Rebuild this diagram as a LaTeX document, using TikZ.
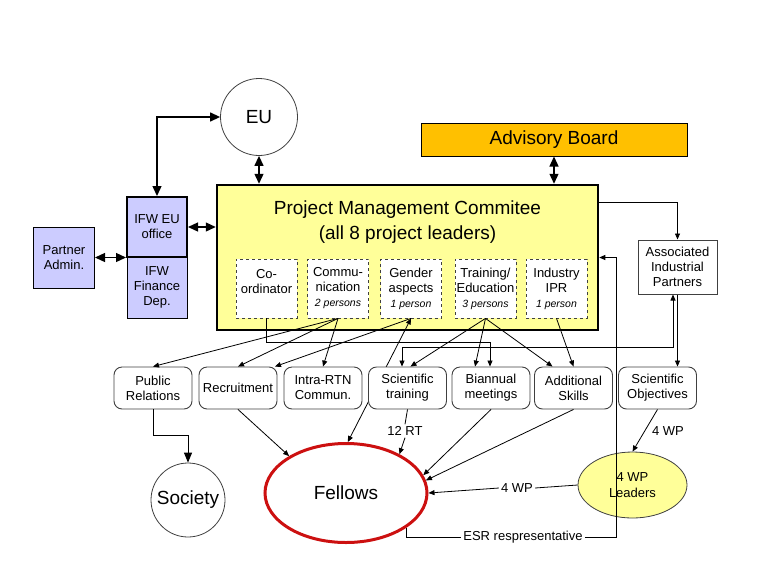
\documentclass[tikz,border=0pt]{standalone}
\usepackage{fontspec}
\setmainfont{Liberation Sans}
\usetikzlibrary{arrows.meta,calc,positioning,shapes.geometric}
\definecolor{pmcyellow}{HTML}{FFFF99}
\definecolor{advorange}{HTML}{FFC000}
\definecolor{ifwblue}{HTML}{CCCCFF}
\definecolor{fellred}{HTML}{CC1010}
\definecolor{boxgray}{HTML}{404040}
\newcommand{\pers}[1]{{\fontsize{10.5}{13}\selectfont\itshape #1}}
\tikzset{
    myblock/.style={rectangle,draw=black,line width=1pt,align=center,inner sep=0pt,font=\fontsize{13}{15}\selectfont},
    myinner/.style={rectangle,draw=boxgray,dashed,fill=white,line width=0.8pt,align=center,inner sep=0pt,
        minimum width=61,minimum height=59,font=\fontsize{13}{15}\selectfont},
    myround/.style={rectangle,rounded corners=8pt,draw=boxgray,fill=white,line width=0.9pt,align=center,inner sep=0pt,
        minimum width=78,minimum height=42,font=\fontsize{13}{15}\selectfont},
    mycircle/.style={circle,draw=boxgray,line width=0.8pt,inner sep=0pt,font=\fontsize{19}{21}\selectfont},
    mylabel/.style={inner sep=2pt,font=\fontsize{13}{15}\selectfont},
    myline/.style={line width=0.8pt},
    myarrow/.style={line width=0.8pt,-{Triangle[length=6pt,width=5pt]}},
    mydouble/.style={line width=0.8pt,{Triangle[length=6pt,width=5pt]}-{Triangle[length=6pt,width=5pt]}},
    mybig/.style={line width=1.3pt,{Triangle[length=10pt,width=9pt]}-{Triangle[length=10pt,width=9pt]}},
    mybigone/.style={line width=1pt,-{Triangle[length=10pt,width=8pt]}}
}

\begin{document}
\begin{tikzpicture}[x=1pt,y=-1pt]
  \useasboundingbox (0,0) rectangle (768,576);

  % top
  \node[mycircle,minimum size=77] (eu) at (259,117) {EU};
  \node[myblock,fill=advorange,minimum width=266,minimum height=33,
    font=\fontsize{19}{21}\selectfont] (adv) at (554,139.5) {Advisory Board};

  % IFW and partners
  \node[myblock,fill=ifwblue,minimum width=61,minimum height=61] (pa) at (64,257.5) {Partner\\Admin.};
  \node[myblock,fill=ifwblue,minimum width=60,minimum height=61] (fin) at (157,287.5) {IFW\\Finance\\Dep.};
  \node[myblock,fill=ifwblue,line width=2pt,minimum width=60,minimum height=60] (ifw) at (157,227) {IFW EU\\office};

  % management committee
  \node[myblock,fill=pmcyellow,line width=2.5pt,minimum width=381,minimum height=145] (pmc) at (407.5,257.5) {};
  \node[align=center,font=\fontsize{19}{25}\selectfont] (pmct) at (407.5,222)
    {Project Management Commitee\\(all 8 project leaders)};
  \foreach \nm/\cx/\txt in {coo/266.5/{Co-\\ordinator\\\mbox{}},
                           com/338/{Commu-\\nication\\\pers{2 persons}},
                           gen/411/{Gender\\aspects\\\pers{1 person}},
                           tra/485.5/{Training/\\Education\\\pers{3 persons}},
                           ind/556.5/{Industry\\IPR\\\pers{1 person}}}{
    \node[myinner] (\nm) at (\cx,288.5) {\txt};
  }

  \node[myblock,draw=boxgray,fill=white,minimum width=79,minimum height=54] (aip) at (677.5,267)
    {Associated\\Industrial\\Partners};

  % fellows and leaders
  \node[ellipse,draw=fellred,line width=3pt,inner sep=0pt,minimum width=162,minimum height=99,
    font=\fontsize{19}{21}\selectfont] (fel) at (346,493) {Fellows};
  \node[ellipse,draw=boxgray,fill=pmcyellow,line width=0.8pt,inner sep=0pt,align=center,
    minimum width=109,minimum height=66,font=\fontsize{13}{16}\selectfont] (lead) at (632.5,485) {4 WP\\Leaders};
  \node[mycircle,minimum size=74] (soc) at (188,500) {Society};

  \draw[mydouble] (gen.south) -- (fel.88);

  % activities
  \foreach \nm/\cx/\txt in {pr/153/{Public\\Relations}, rec/238/Recruitment, itr/323/{Intra-RTN\\Commun.},
                           st/407.5/{Scientific\\training}, bia/491/{Biannual\\meetings},
                           add/573.5/{Additional\\Skills}, sob/657.5/{Scientific\\Objectives}}{
    \node[myround] (\nm) at (\cx,388) {\txt};
  }

  \node[mylabel] (rt) at (405,431) {12 RT};
  \node[mylabel] (wpa) at (668,431) {4 WP};
  \node[mylabel] (wpb) at (517,488) {4 WP};
  \node[mylabel] (esr) at (523,537) {ESR respresentative};
  \coordinate (esrturn) at (616,537);

  % connectors
  \draw[mybig] (eu.south) -- (eu.south |- pmc.north);
  \draw[mybig] (adv.south) -- (adv.south |- pmc.north);
  \draw[mybig] (eu.west) -| (ifw.north);
  \draw[mybig] (ifw.east) -- (ifw.east -| pmc.west);
  \draw[mybig] (pa.east) -- (pa.east -| ifw.west);

  \draw[myarrow] ($(pmc.north east)+(0,19)$) -| (aip.north);
  \draw[myarrow] (aip.south) -- (aip.south |- sob.north);
  \draw[mydouble] ($(st.north)+(-5.5,0)$) -- ++(0,-19) -| ($(aip.south)+(-4.5,0)$);
  \draw[myarrow] (coo.south) -- ++(0,24) -| ($(bia.north)+(-1,0)$);

  \foreach \t in {pr.north,rec.north,itr.north}
    \draw[myarrow] (com.south) -- (\t);
  \draw[myarrow] (gen.south) -- ($(rec.north)+(37,0)$);
  \draw[myarrow] (tra.south) -- ($(st.north)+(3,0)$);
  \draw[myarrow] (tra.south) -- ($(bia.north)+(-16,0)$);
  \draw[myarrow] (tra.south) -- ($(add.north)+(-21,0)$);
  \draw[myarrow] (ind.south) -- (add.north);

  \draw[mybigone] (pr.south) -- ++(0,26) -| (soc.north);
  \draw[myarrow] (rec.south) -- (fel.147);
  \draw[myline] (st.south) -- (rt.north);
  \draw[myarrow] (rt.south) -- (fel.36);
  \draw[myarrow] (bia.south) -- (fel.13);
  \draw[myarrow] (add.south) -- (fel.9);
  \draw[myarrow] (sob.south) -- (lead.north);
  \draw[myline] (lead.west) -- (wpb.east);
  \draw[myarrow] (wpb.west) -- (fel.east);
  \draw[myline] (fel.330) |- (esr.west);
  \draw[myarrow] (esr.east) -- (esrturn) |- (pmc.east);
\end{tikzpicture}
\end{document}
